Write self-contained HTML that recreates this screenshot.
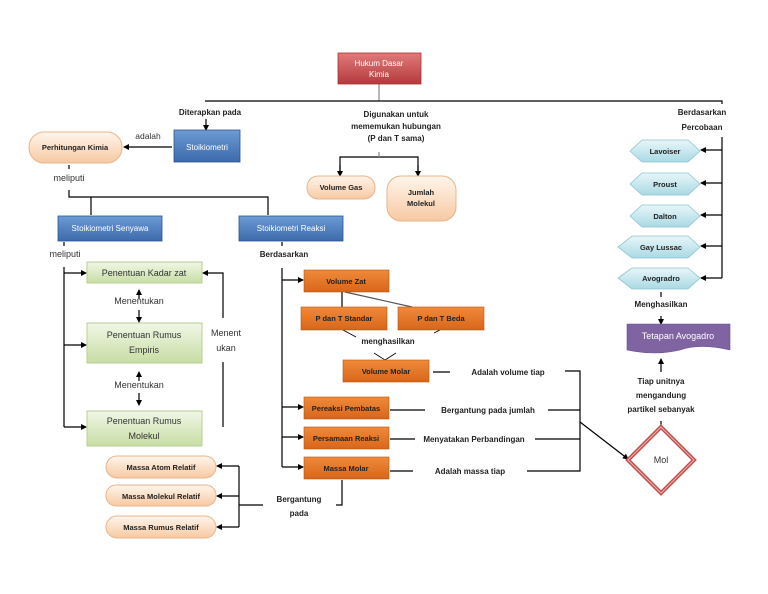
<!DOCTYPE html>
<html><head><meta charset="utf-8"><style>
html,body{margin:0;padding:0;background:#fff;}
svg{display:block;}
text{font-family:"Liberation Sans",sans-serif;font-size:8px;font-weight:bold;fill:#222;}
.w{fill:#fff;}
.g{font-weight:normal;font-size:9px;fill:#333;}
</style></head><body>
<svg width="768" height="594" viewBox="0 0 768 594" xmlns="http://www.w3.org/2000/svg">
<defs>
<linearGradient id="red" x1="0" y1="0" x2="0" y2="1"><stop offset="0" stop-color="#e07a7a"/><stop offset="1" stop-color="#b53a3c"/></linearGradient>
<linearGradient id="blue" x1="0" y1="0" x2="0" y2="1"><stop offset="0" stop-color="#6d9bd4"/><stop offset="1" stop-color="#3c6aac"/></linearGradient>
<linearGradient id="peach" x1="0" y1="0" x2="0" y2="1"><stop offset="0" stop-color="#fff5ec"/><stop offset="1" stop-color="#f7c9a2"/></linearGradient>
<linearGradient id="green" x1="0" y1="0" x2="0" y2="1"><stop offset="0" stop-color="#f1f7e6"/><stop offset="1" stop-color="#c7dda4"/></linearGradient>
<linearGradient id="orange" x1="0" y1="0" x2="0" y2="1"><stop offset="0" stop-color="#f08a3a"/><stop offset="1" stop-color="#d8661a"/></linearGradient>
<linearGradient id="cyan" x1="0" y1="0" x2="0" y2="1"><stop offset="0" stop-color="#e8f6f9"/><stop offset="1" stop-color="#a9d9e4"/></linearGradient>
<marker id="a" markerWidth="6" markerHeight="6" refX="5" refY="3" orient="auto" markerUnits="userSpaceOnUse"><path d="M0,0 L6,3 L0,6 z" fill="#000"/></marker>
</defs>
<g stroke="#000" stroke-width="1.2" fill="none">
<!-- top -->
<line x1="379" y1="84" x2="379" y2="101" stroke="#888"/>
<polyline points="205,101 722,101 722,104"/>
<line x1="206" y1="119" x2="206" y2="130" marker-end="url(#a)"/>
<line x1="172" y1="147" x2="124" y2="147" marker-end="url(#a)"/>
<line x1="69" y1="165" x2="69" y2="169"/>
<polyline points="69,190 69,197 268,197 268,215"/>
<line x1="91" y1="197" x2="91" y2="215"/>
<!-- middle top -->
<polyline points="340,175 340,157 418,157 418,175"/>
<line x1="340" y1="165" x2="340" y2="176" marker-end="url(#a)"/>
<line x1="418" y1="165" x2="418" y2="176" marker-end="url(#a)"/>
<line x1="379" y1="152" x2="379" y2="157" stroke="#888"/>
<!-- senyawa -->
<line x1="64" y1="242" x2="64" y2="246"/>
<polyline points="64,267 64,427"/>
<line x1="64" y1="273" x2="86" y2="273" marker-end="url(#a)"/>
<line x1="64" y1="345" x2="86" y2="345" marker-end="url(#a)"/>
<line x1="64" y1="427" x2="86" y2="427" marker-end="url(#a)"/>
<line x1="139" y1="299" x2="139" y2="290" marker-end="url(#a)"/>
<line x1="139" y1="310" x2="139" y2="322" marker-end="url(#a)"/>
<line x1="139" y1="381" x2="139" y2="372" marker-end="url(#a)"/>
<line x1="139" y1="393" x2="139" y2="405" marker-end="url(#a)"/>
<polyline points="223,318 223,273 203,273" marker-end="url(#a)"/>
<line x1="223" y1="362" x2="223" y2="427"/>
<!-- massa relatif -->
<polyline points="239,466 239,527"/>
<line x1="239" y1="466" x2="217" y2="466" marker-end="url(#a)"/>
<line x1="239" y1="496" x2="217" y2="496" marker-end="url(#a)"/>
<line x1="239" y1="527" x2="217" y2="527" marker-end="url(#a)"/>
<line x1="239" y1="505" x2="263" y2="505"/>
<polyline points="342,480 342,505 336,505"/>
<!-- reaksi -->
<line x1="282" y1="242" x2="282" y2="246"/>
<polyline points="282,268 282,467"/>
<line x1="282" y1="280" x2="303" y2="280" marker-end="url(#a)"/>
<line x1="282" y1="407" x2="303" y2="407" marker-end="url(#a)"/>
<line x1="282" y1="437" x2="303" y2="437" marker-end="url(#a)"/>
<line x1="282" y1="467" x2="303" y2="467" marker-end="url(#a)"/>
<line x1="342" y1="292" x2="342" y2="307"/>
<line x1="345" y1="292" x2="412" y2="307" stroke="#555"/>
<line x1="343" y1="330" x2="356" y2="337" stroke-width="0.8"/>
<line x1="440" y1="330" x2="434" y2="333" stroke-width="0.8"/>
<polyline points="374,353 385,360 396,353" stroke-width="0.8"/>
<line x1="433" y1="372" x2="450" y2="372"/>
<polyline points="565,371 580,371 580,471 527,471"/>
<line x1="390" y1="410" x2="425" y2="410"/>
<line x1="548" y1="410" x2="580" y2="410"/>
<line x1="390" y1="439" x2="415" y2="439"/>
<line x1="535" y1="439" x2="580" y2="439"/>
<line x1="390" y1="471" x2="413" y2="471"/>
<line x1="580" y1="422" x2="628" y2="459" marker-end="url(#a)"/>
<!-- right -->
<polyline points="722,137 722,278"/>
<line x1="722" y1="150" x2="701" y2="150" marker-end="url(#a)"/>
<line x1="722" y1="183" x2="701" y2="183" marker-end="url(#a)"/>
<line x1="722" y1="215" x2="701" y2="215" marker-end="url(#a)"/>
<line x1="722" y1="246" x2="701" y2="246" marker-end="url(#a)"/>
<line x1="722" y1="278" x2="701" y2="278" marker-end="url(#a)"/>
<line x1="661" y1="292" x2="661" y2="297"/>
<line x1="661" y1="316" x2="661" y2="324" marker-end="url(#a)"/>
<line x1="661" y1="372" x2="661" y2="359" marker-end="url(#a)"/>
<line x1="661" y1="421" x2="661" y2="428"/>
</g>
<!-- boxes -->
<rect x="338" y="53" width="83" height="31" fill="url(#red)" stroke="#a33" stroke-width="0.8"/>
<text x="379" y="66" text-anchor="middle" class="w" style="font-weight:normal">Hukum Dasar</text>
<text x="379" y="77" text-anchor="middle" class="w" style="font-weight:normal">Kimia</text>
<rect x="174" y="130" width="66" height="32" fill="url(#blue)" stroke="#2d548c" stroke-width="0.8"/>
<text x="207" y="150" text-anchor="middle" class="w" style="font-weight:normal">Stoikiometri</text>
<rect x="29" y="132" width="93" height="31" rx="15" fill="url(#peach)" stroke="#e7b58d"/>
<text x="75" y="150" text-anchor="middle" style="font-size:7.5px">Perhitungan Kimia</text>
<rect x="58" y="216" width="104" height="25" fill="url(#blue)" stroke="#2d548c" stroke-width="0.8"/>
<text x="110" y="231" text-anchor="middle" class="w" style="font-weight:normal">Stoikiometri Senyawa</text>
<rect x="239" y="216" width="104" height="25" fill="url(#blue)" stroke="#2d548c" stroke-width="0.8"/>
<text x="291" y="231" text-anchor="middle" class="w" style="font-weight:normal">Stoikiometri Reaksi</text>
<rect x="307" y="176" width="68" height="23" rx="11" fill="url(#peach)" stroke="#e7b58d"/>
<text x="341" y="190" text-anchor="middle" style="font-size:7.5px">Volume Gas</text>
<rect x="387" y="176" width="69" height="45" rx="14" fill="url(#peach)" stroke="#e7b58d"/>
<text x="421" y="195" text-anchor="middle" style="font-size:7.5px">Jumlah</text>
<text x="421" y="206" text-anchor="middle" style="font-size:7.5px">Molekul</text>
<!-- green -->
<rect x="87" y="262" width="115" height="21" fill="url(#green)" stroke="#b8cf95"/>
<text x="144" y="276" text-anchor="middle" class="g">Penentuan Kadar zat</text>
<rect x="87" y="323" width="115" height="40" fill="url(#green)" stroke="#b8cf95"/>
<text x="144" y="338" text-anchor="middle" class="g">Penentuan Rumus</text>
<text x="144" y="353" text-anchor="middle" class="g">Empiris</text>
<rect x="87" y="411" width="115" height="35" fill="url(#green)" stroke="#b8cf95"/>
<text x="144" y="424" text-anchor="middle" class="g">Penentuan Rumus</text>
<text x="144" y="439" text-anchor="middle" class="g">Molekul</text>
<text x="139" y="304" text-anchor="middle" class="g">Menentukan</text>
<text x="139" y="388" text-anchor="middle" class="g">Menentukan</text>
<text x="226" y="336" text-anchor="middle" class="g">Menent</text>
<text x="226" y="351" text-anchor="middle" class="g">ukan</text>
<!-- massa relatif -->
<rect x="106" y="456" width="110" height="22" rx="11" fill="url(#peach)" stroke="#e7b58d"/>
<text x="161" y="470" text-anchor="middle" style="font-size:7.5px">Massa Atom Relatif</text>
<rect x="106" y="485" width="110" height="21" rx="10" fill="url(#peach)" stroke="#e7b58d"/>
<text x="161" y="499" text-anchor="middle" style="font-size:7.5px">Massa Molekul Relatif</text>
<rect x="106" y="516" width="110" height="22" rx="11" fill="url(#peach)" stroke="#e7b58d"/>
<text x="161" y="530" text-anchor="middle" style="font-size:7.5px">Massa Rumus Relatif</text>
<!-- orange -->
<g stroke="#b85413" stroke-width="0.6">
<rect x="304" y="270" width="85" height="22" fill="url(#orange)"/>
<rect x="301" y="307" width="86" height="23" fill="url(#orange)"/>
<rect x="398" y="307" width="86" height="23" fill="url(#orange)"/>
<rect x="343" y="360" width="86" height="22" fill="url(#orange)"/>
<rect x="304" y="397" width="85" height="22" fill="url(#orange)"/>
<rect x="304" y="427" width="85" height="22" fill="url(#orange)"/>
<rect x="304" y="457" width="85" height="22" fill="url(#orange)"/>
</g>
<g style="font-size:7.5px">
<text x="346" y="284" text-anchor="middle" style="font-size:7.5px">Volume Zat</text>
<text x="344" y="321" text-anchor="middle" style="font-size:7.5px">P dan T Standar</text>
<text x="441" y="321" text-anchor="middle" style="font-size:7.5px">P dan T Beda</text>
<text x="386" y="374" text-anchor="middle" style="font-size:7.5px">Volume Molar</text>
<text x="346" y="411" text-anchor="middle" style="font-size:7.5px">Pereaksi Pembatas</text>
<text x="346" y="441" text-anchor="middle" style="font-size:7.5px">Persamaan Reaksi</text>
<text x="346" y="471" text-anchor="middle" style="font-size:7.5px">Massa Molar</text>
</g>
<!-- hexagons -->
<g fill="url(#cyan)" stroke="#8fc3d0" stroke-width="0.8">
<polygon points="630,151 642,140 688,140 700,151 688,162 642,162"/>
<polygon points="630,184 642,173 688,173 700,184 688,195 642,195"/>
<polygon points="630,216 642,205 688,205 700,216 688,227 642,227"/>
<polygon points="618,247 632,236 688,236 700,247 688,258 632,258"/>
<polygon points="618,278 632,268 688,268 700,278 688,289 632,289"/>
</g>
<text x="665" y="154" text-anchor="middle" style="font-size:7.5px">Lavoiser</text>
<text x="665" y="187" text-anchor="middle" style="font-size:7.5px">Proust</text>
<text x="665" y="219" text-anchor="middle" style="font-size:7.5px">Dalton</text>
<text x="661" y="250" text-anchor="middle" style="font-size:7.5px">Gay Lussac</text>
<text x="661" y="281" text-anchor="middle" style="font-size:7.5px">Avogradro</text>
<!-- tetapan -->
<path d="M627,324 L730,324 L730,350 Q700,343 680,350 Q655,356 627,350 Z" fill="#8064a2" stroke="#6b5090" stroke-width="0.6"/>
<text x="678" y="339" text-anchor="middle" class="w" style="font-weight:normal;font-size:9px">Tetapan Avogadro</text>
<!-- mol -->
<polygon points="661,427 694,460 661,493 628,460" fill="#fff" stroke="#c0504d" stroke-width="4"/>
<polygon points="661,427 694,460 661,493 628,460" fill="none" stroke="#e9b3b2" stroke-width="1"/>
<text x="661" y="463" text-anchor="middle" class="g">Mol</text>
<!-- labels -->
<text x="210" y="115" text-anchor="middle">Diterapkan pada</text>
<text x="148" y="139" text-anchor="middle" class="g" style="font-size:8.5px">adalah</text>
<text x="69" y="181" text-anchor="middle" class="g">meliputi</text>
<text x="65" y="257" text-anchor="middle" class="g">meliputi</text>
<text x="284" y="257" text-anchor="middle">Berdasarkan</text>
<text x="396" y="117" text-anchor="middle">Digunakan untuk</text>
<text x="396" y="129" text-anchor="middle">mememukan hubungan</text>
<text x="396" y="141" text-anchor="middle">(P dan T sama)</text>
<text x="702" y="115" text-anchor="middle">Berdasarkan</text>
<text x="702" y="130" text-anchor="middle">Percobaan</text>
<text x="661" y="307" text-anchor="middle">Menghasilkan</text>
<text x="661" y="384" text-anchor="middle">Tiap unitnya</text>
<text x="661" y="398" text-anchor="middle">mengandung</text>
<text x="661" y="412" text-anchor="middle">partikel sebanyak</text>
<text x="388" y="344" text-anchor="middle">menghasilkan</text>
<text x="508" y="375" text-anchor="middle">Adalah volume tiap</text>
<text x="488" y="413" text-anchor="middle">Bergantung pada jumlah</text>
<text x="474" y="442" text-anchor="middle">Menyatakan Perbandingan</text>
<text x="470" y="474" text-anchor="middle">Adalah massa tiap</text>
<text x="299" y="502" text-anchor="middle">Bergantung</text>
<text x="299" y="516" text-anchor="middle">pada</text>
</svg>
</body></html>
